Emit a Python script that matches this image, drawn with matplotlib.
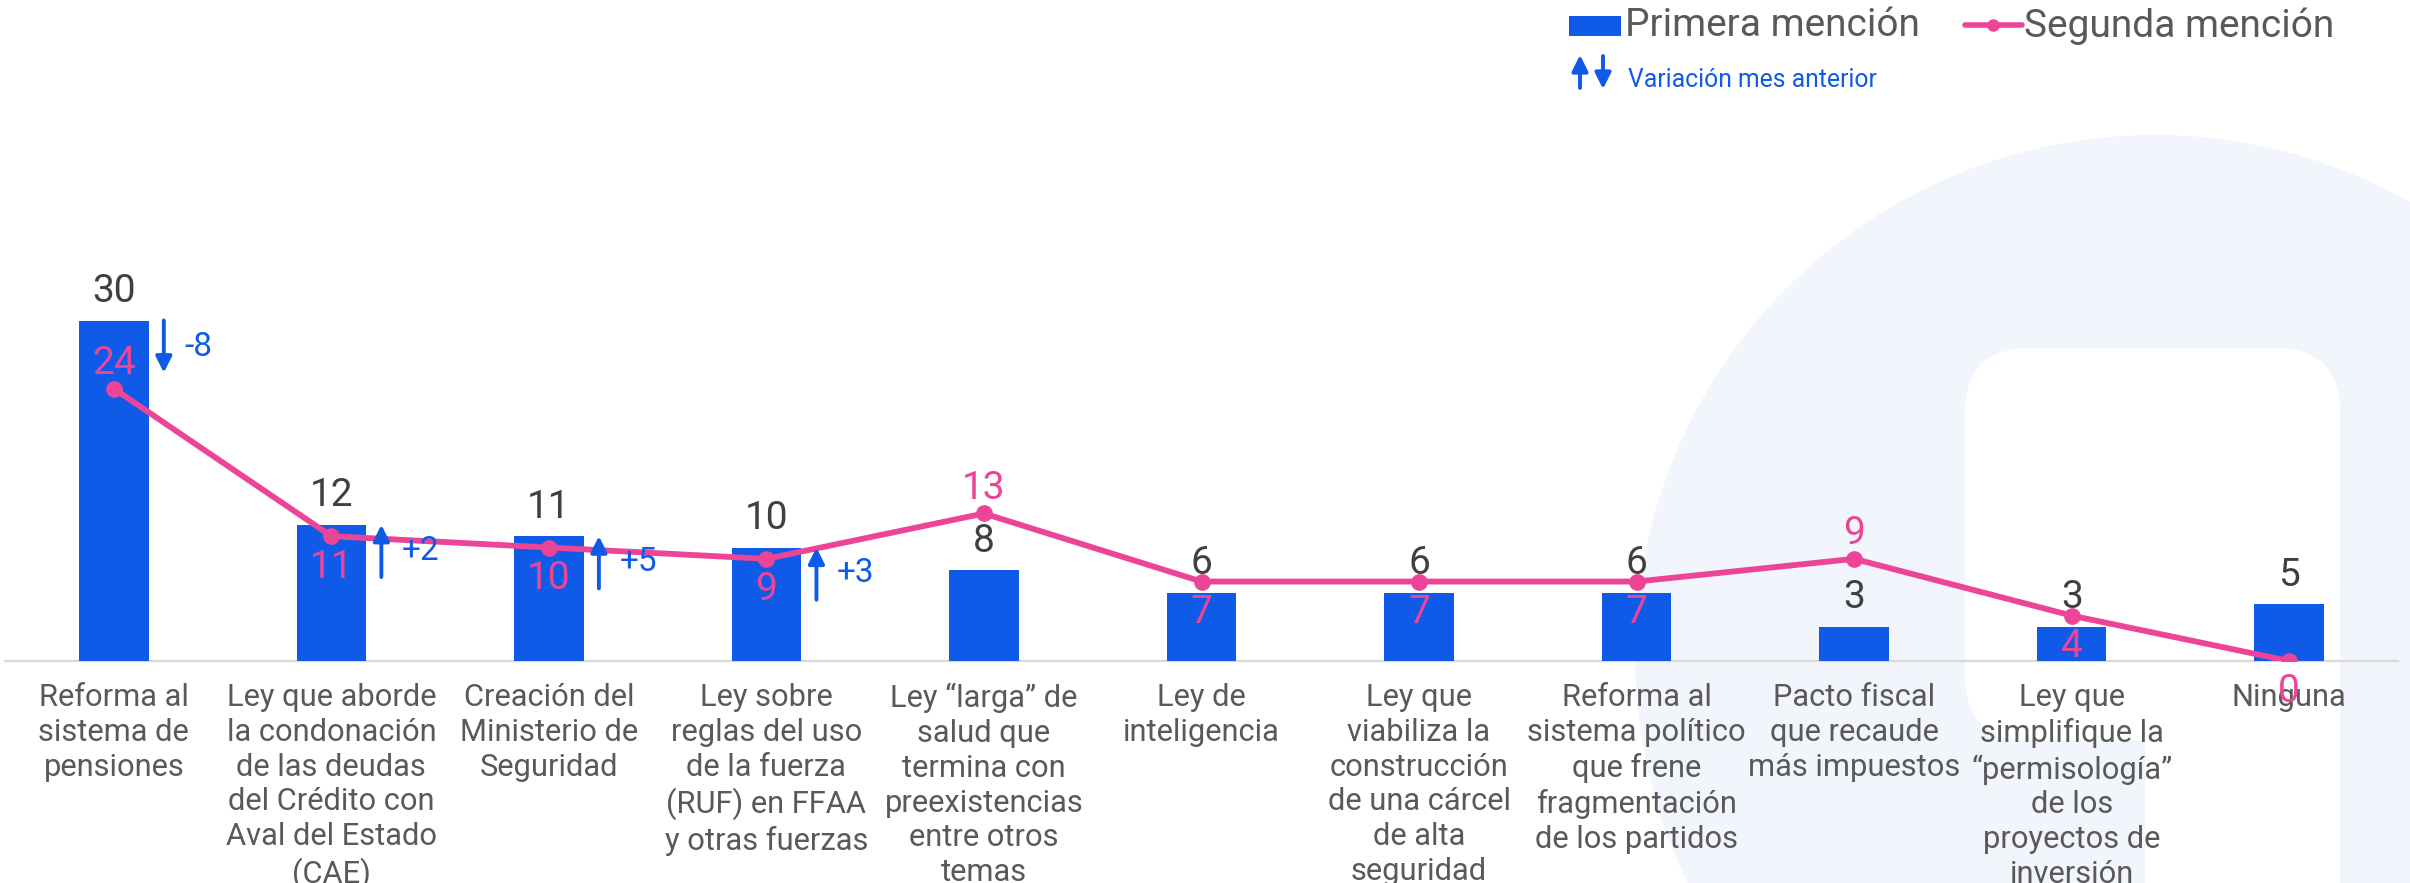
#Imports
import matplotlib
matplotlib.use('Agg')
import matplotlib.pyplot as plt
from matplotlib.patches import Circle, FancyBboxPatch, Rectangle
import numpy as np

plt.rcParams['font.family'] = ['Roboto', 'DejaVu Sans']

#Data
categorias = ['Reforma al\nsistema de\npensiones',
              'Ley que aborde\nla condonación\nde las deudas\ndel Crédito con\nAval del Estado\n(CAE)',
              'Creación del\nMinisterio de\nSeguridad',
              'Ley sobre\nreglas del uso\nde la fuerza\n(RUF) en FFAA\ny otras fuerzas',
              'Ley “larga” de\nsalud que\ntermina con\npreexistencias\nentre otros\ntemas',
              'Ley de\ninteligencia',
              'Ley que\nviabiliza la\nconstrucción\nde una cárcel\nde alta\nseguridad',
              'Reforma al\nsistema político\nque frene\nfragmentación\nde los partidos',
              'Pacto fiscal\nque recaude\nmás impuestos',
              'Ley que\nsimplifique la\n“permisología”\nde los\nproyectos de\ninversión',
              'Ninguna']
primera = [30, 12, 11, 10, 8, 6, 6, 6, 3, 3, 5]
segunda = [24, 11, 10, 9, 13, 7, 7, 7, 9, 4, 0]
variacion = [-8, 2, 5, 3, None, None, None, None, None, None, None]
#where the pink label goes (1 above the point, -1 below)
lado_segunda = [1, -1, -1, -1, 1, -1, -1, -1, 1, -1, -1]

azul = '#0F5AE6'
rosa = '#EC4597'
gris = '#595959'
oscuro = '#404040'
lavanda = '#F3F5FC'

fig = plt.figure(figsize=(24.1, 8.83), dpi=100)

#Background logo (pixel coords)
bg = fig.add_axes([0, 0, 1, 1])
bg.set_xlim(0, 2410)
bg.set_ylim(883, 0)
bg.axis('off')
bg.add_patch(Circle((2155, 655), 520, color=lavanda, lw=0))
bg.add_patch(FancyBboxPatch((1965, 348), 375, 392, boxstyle='round,pad=0,rounding_size=65',
                            color='white', lw=0))
bg.add_patch(Rectangle((2145, 600), 195, 300, color='white', lw=0))

#Legend
bg.add_patch(Rectangle((1569, 16), 52, 20, color=azul, lw=0))
bg.text(1625, 26, 'Primera mención', fontsize=28, color=gris, va='center', ha='left')
bg.plot([1965, 2022], [25, 25], color=rosa, lw=4, solid_capstyle='round')
bg.plot([1993], [25], 'o', color=rosa, ms=8)
bg.text(2024, 26, 'Segunda mención', fontsize=28, color=gris, va='center', ha='left')
flecha = dict(arrowstyle='-|>', color=azul, lw=2.8, mutation_scale=24, shrinkA=0, shrinkB=0)
bg.annotate('', xy=(1580, 55), xytext=(1580, 88), arrowprops=flecha)
bg.annotate('', xy=(1603, 89), xytext=(1603, 56), arrowprops=flecha)
bg.text(1628, 80, 'Variación mes anterior', fontsize=17.8, color=azul, va='center', ha='left')

#Main chart
ax = fig.add_axes([5/2410, 222/883, 2393/2410, 561/883])
ax.patch.set_alpha(0)
x = np.arange(len(categorias))
ax.bar(x, primera, width=0.32, color=azul, zorder=2)
ax.plot(x, segunda, color=rosa, lw=4.2, marker='o', ms=11, zorder=3)
ax.axhline(0, color='#D9D9D9', lw=1.6, zorder=1, clip_on=False)
ax.set_xlim(-0.5, 10.5)
ax.set_ylim(0, 561/11.35)
ax.axis('off')

for i in range(len(categorias)):
    ax.annotate(categorias[i], (x[i], 0), xytext=(0, -22), textcoords='offset pixels',
                ha='center', va='top', fontsize=22.2, color=gris, linespacing=1.25,
                annotation_clip=False)
    ax.annotate(str(primera[i]), (x[i], primera[i]), xytext=(0, 29), textcoords='offset pixels',
                ha='center', va='center', fontsize=28, color=oscuro, zorder=4)
    off = 25 if lado_segunda[i] > 0 else -31
    ax.annotate(str(segunda[i]), (x[i], segunda[i]), xytext=(0, off), textcoords='offset pixels',
                ha='center', va='center', fontsize=28, color=rosa, zorder=5,
                annotation_clip=False)

#Variation arrows
for i, d in enumerate(variacion):
    if d is None:
        continue
    xa = x[i] + 0.23
    top = primera[i]
    bottom = top - 4.6
    if d > 0:
        ax.annotate('', xy=(xa, top), xytext=(xa, bottom), arrowprops=flecha)
    else:
        ax.annotate('', xy=(xa, bottom), xytext=(xa, top), arrowprops=flecha)
    ax.annotate(f'{d:+d}', (x[i] + 0.325, top), xytext=(0, -26), textcoords='offset pixels',
                ha='left', va='center', fontsize=24, color=azul)

fig.savefig('out.png', dpi=100)
